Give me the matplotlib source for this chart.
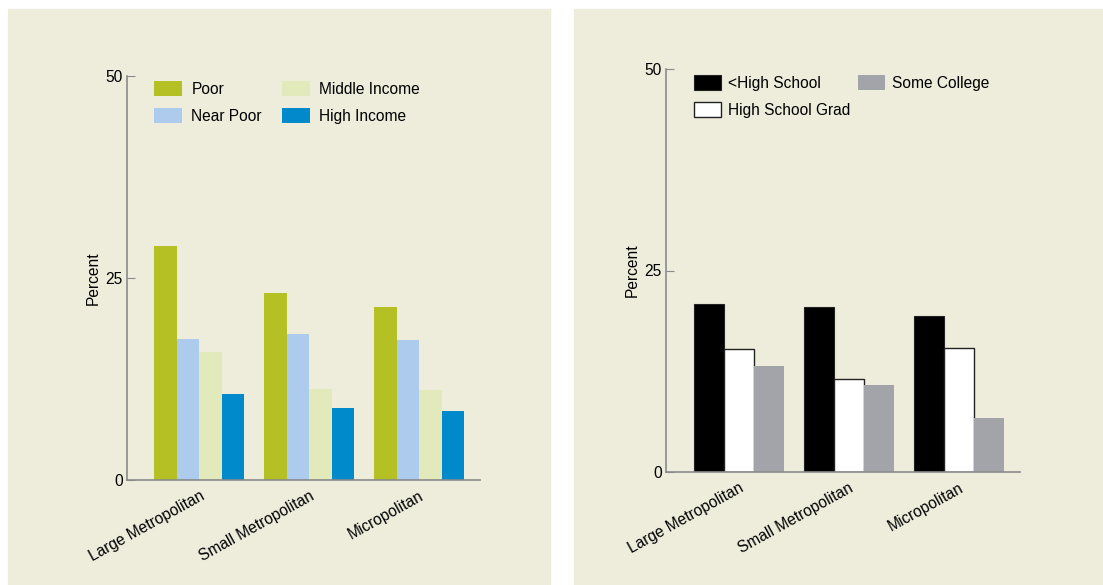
import matplotlib
matplotlib.use("Agg")
import matplotlib.pyplot as plt
from matplotlib.patches import Rectangle
import numpy as np

plt.rcParams['font.family'] = ['Liberation Sans', 'DejaVu Sans']

categories = ['Large Metropolitan', 'Small Metropolitan', 'Micropolitan']

# left panel: by income
income_labels = ['Poor', 'Near Poor', 'Middle Income', 'High Income']
poor = [29.0, 23.2, 21.4]
near_poor = [17.4, 18.1, 17.3]
middle_income = [15.8, 11.3, 11.1]
high_income = [10.7, 8.9, 8.5]

# right panel: by education
edu_labels = ['<High School', 'High School Grad', 'Some College']
less_hs = [20.9, 20.5, 19.4]
hs_grad = [15.3, 11.5, 15.4]
some_college = [13.1, 10.8, 6.7]

yticks = [0, 25, 50]

bg = '#EEEDDC'
axis_col = '#8A8A8A'
fs = 11.2

fig = plt.figure(figsize=(11.03, 5.85), dpi=100)
W, H = 1103, 585

# panel backgrounds
fig.patches.append(Rectangle((8 / W, 0), (550 - 8) / W, 1 - 9 / H,
                             transform=fig.transFigure, color=bg, zorder=-10))
fig.patches.append(Rectangle((574 / W, 0), (W - 574) / W, 1 - 9 / H,
                             transform=fig.transFigure, color=bg, zorder=-10))


def style_axes(ax):
    ax.set_facecolor('none')
    for s in ['top', 'right']:
        ax.spines[s].set_visible(False)
    for s in ['left', 'bottom']:
        ax.spines[s].set_color(axis_col)
        ax.spines[s].set_linewidth(1.2)
    ax.set_ylim(0, 50)
    ax.set_yticks(yticks)
    ax.set_yticklabels([str(t) for t in yticks], fontsize=fs)
    ax.tick_params(axis='y', direction='in', length=6, color=axis_col, pad=3)
    ax.tick_params(axis='x', length=0, pad=6)
    x = np.arange(len(categories))
    ax.set_xticks(x)
    ax.set_xticklabels(categories, rotation=29, ha='right',
                       rotation_mode='anchor', fontsize=fs)
    ax.set_xlim(-0.66, 2.555)
    ax.set_ylabel('Percent', fontsize=fs)
    ax.yaxis.set_label_coords(-0.075, 0.5)


# left chart
ax1 = fig.add_axes([127 / W, 1 - 480 / H, 353 / W, 404 / H])
x = np.arange(len(categories))
w1 = 0.205
series1 = [poor, near_poor, middle_income, high_income]
colors1 = ['#B4C024', '#ADCBEC', '#E2E9BA', '#0089CB']
for i, (vals, c, lab) in enumerate(zip(series1, colors1, income_labels)):
    ax1.bar(x + (i - 1.5) * w1, vals, w1, color=c, label=lab, zorder=2)
style_axes(ax1)
ax1.legend(loc='upper left', bbox_to_anchor=(154 / W, 1 - 81 / H),
           bbox_transform=fig.transFigure, ncol=2, frameon=False,
           fontsize=fs, borderpad=0, borderaxespad=0, handlelength=1.8,
           handleheight=1.15, handletextpad=0.6, columnspacing=1.3,
           labelspacing=0.7)

# right chart
ax2 = fig.add_axes([666 / W, 1 - 472 / H, 354 / W, 403 / H])
w2 = 0.273
ax2.bar(x - w2, less_hs, w2, color='black', edgecolor='#222222',
        linewidth=0.8, label=edu_labels[0], zorder=2)
ax2.bar(x, hs_grad, w2, color='white', edgecolor='#222222',
        linewidth=1.0, label=edu_labels[1], zorder=2)
ax2.bar(x + w2, some_college, w2, color='#A3A3AA', label=edu_labels[2],
        zorder=2)
style_axes(ax2)
ax2.legend(loc='upper left', bbox_to_anchor=(694 / W, 1 - 75 / H),
           bbox_transform=fig.transFigure, ncol=2, frameon=False,
           fontsize=fs, borderpad=0, borderaxespad=0, handlelength=1.75,
           handleheight=1.15, handletextpad=0.45, columnspacing=0.5,
           labelspacing=0.7)

fig.savefig('out.png', dpi=100)
